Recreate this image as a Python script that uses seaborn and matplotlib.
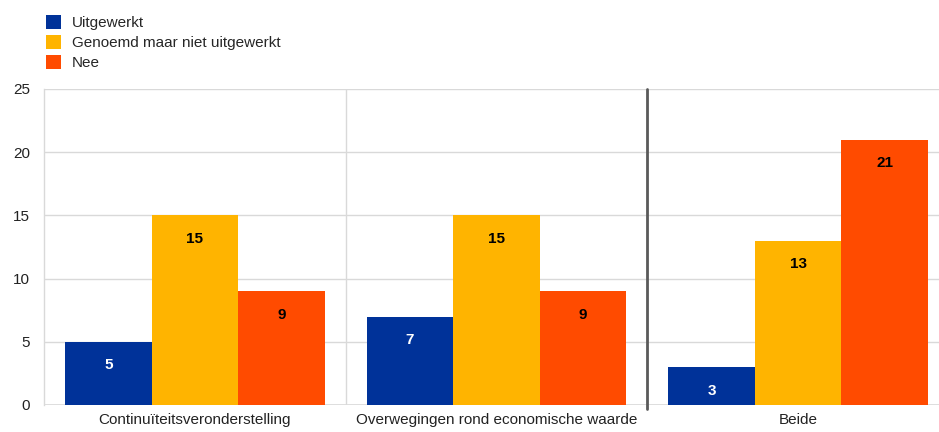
import matplotlib
matplotlib.use("Agg")
import matplotlib.pyplot as plt
import seaborn as sns
import pandas as pd
from matplotlib.patches import Patch

categories = ["Continuïteitsveronderstelling", "Overwegingen rond economische waarde", "Beide"]
series = ["Uitgewerkt", "Genoemd maar niet uitgewerkt", "Nee"]
uitgewerkt = [5, 7, 3]
genoemd = [15, 15, 13]
nee = [9, 9, 21]
colors = ["#003299", "#FFB400", "#FF4B00"]
label_colors = ["white", "black", "black"]

rows = []
for s, vals in zip(series, [uitgewerkt, genoemd, nee]):
    for c, v in zip(categories, vals):
        rows.append({"categorie": c, "reeks": s, "waarde": v})
df = pd.DataFrame(rows)

sns.set_theme(style="white")
plt.rcParams["font.family"] = ["Liberation Sans", "DejaVu Sans"]

fig = plt.figure(figsize=(9.39, 4.32), dpi=100)
W, H = 939, 432
ax = fig.add_axes([44 / W, (H - 405) / H, (949 - 44) / W, 316 / H])

sns.barplot(data=df, x="categorie", y="waarde", hue="reeks", order=categories,
            hue_order=series, palette=colors, width=0.86, gap=0,
            saturation=1, edgecolor="none", linewidth=0, legend=False, ax=ax, zorder=3)

ax.set_xlim(-0.5, 2.5)
ax.set_ylim(0, 25)
ax.set_yticks([0, 5, 10, 15, 20, 25])
ax.yaxis.grid(True, color="#d9d9d9", linewidth=1)
ax.set_axisbelow(True)
for side in ["top", "right", "bottom"]:
    ax.spines[side].set_visible(False)
ax.spines["left"].set_color("#d9d9d9")
ax.spines["left"].set_linewidth(1)
ax.axhline(0, color="#d9d9d9", linewidth=1.2, zorder=2)
ax.axvline(0.5, color="#d9d9d9", linewidth=1, zorder=2)
ax.plot([1.5, 1.5], [-0.3, 25], color="#5a5a5a", linewidth=2.0, zorder=4, clip_on=False)

ax.set_xlabel("")
ax.set_ylabel("")
ax.tick_params(axis="both", length=0, labelsize=11, colors="#222222")
ax.tick_params(axis="y", pad=10)
ax.tick_params(axis="x", pad=6)

for cont, tc in zip(ax.containers, label_colors):
    labels = [f"{int(round(b.get_height()))}" for b in cont]
    ax.bar_label(cont, labels=labels, label_type="edge", padding=-22,
                 color=tc, fontsize=11, fontweight="bold")

handles = [Patch(facecolor=c, edgecolor="none") for c in colors]
fig.legend(handles, series, loc="upper left", bbox_to_anchor=(40 / W, 1 - 9 / H),
           frameon=False, fontsize=11, handlelength=1.0, handleheight=1.0,
           handletextpad=0.7, labelspacing=0.32, borderaxespad=0)

fig.savefig("out.png", dpi=100)
